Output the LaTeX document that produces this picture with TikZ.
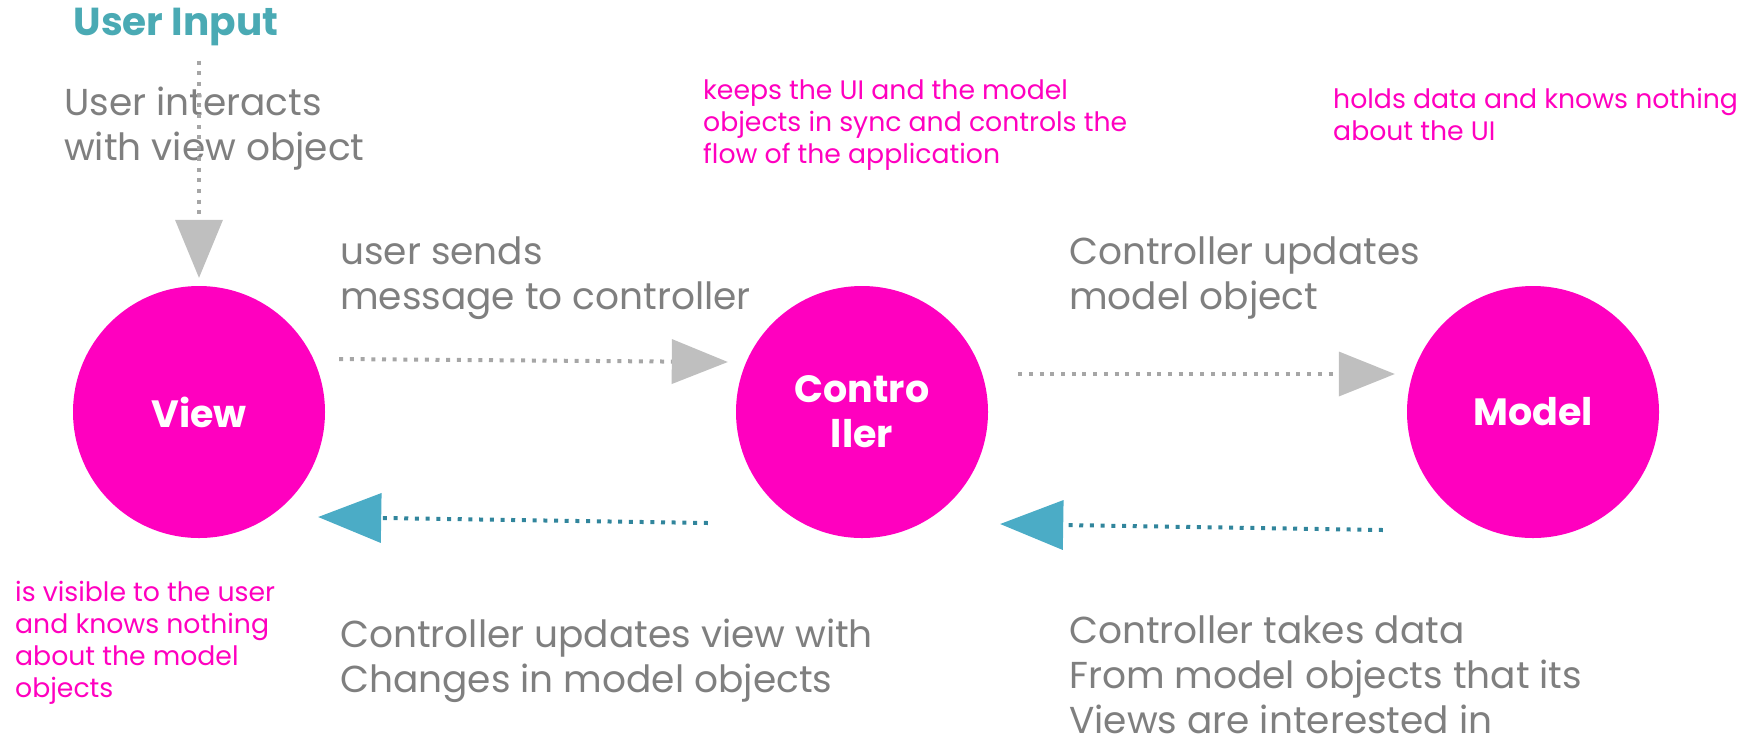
\documentclass[tikz,border=0pt]{standalone}
\usepackage{fontspec}
\setmainfont{Poppins}
\usetikzlibrary{arrows.meta,positioning}

\definecolor{mvcpink}{HTML}{FF00BF}
\definecolor{mvcteal}{HTML}{4BACC6}
\definecolor{mvcdark}{HTML}{31859C}
\definecolor{mvcinput}{HTML}{4AAAB4}
\definecolor{mvcgray}{HTML}{7F7F7F}
\definecolor{headgray}{HTML}{BFBFBF}
\definecolor{dotgray}{HTML}{A6A6A6}

\begin{document}
\begin{tikzpicture}[x=1pt,y=-1pt]

    \tikzstyle{blob}=[circle,fill=mvcpink,minimum size=252pt,inner sep=0pt,text=white,align=center,font=\fontsize{38}{45}\selectfont\bfseries]
    \tikzstyle{note}=[anchor=base west,inner sep=0pt,align=left,text=mvcgray,font=\fontsize{37.5}{45}\selectfont]
    \tikzstyle{remark}=[anchor=base west,inner sep=0pt,align=left,text=mvcpink,font=\fontsize{26.7}{32}\selectfont]
    \tikzstyle{dots}=[line width=4pt,dash pattern=on 4pt off 6.7pt]
    \tikzstyle{ask}=[dots,draw=dotgray,-{Triangle[length=56pt,width=45pt,color=headgray,line width=0pt]}]
    \tikzstyle{reply}=[dots,draw=mvcdark,-{Triangle[length=63pt,width=50pt,color=mvcteal,line width=0pt]}]

    \useasboundingbox (0,0) rectangle (1756,740);

    \node[blob]  (view)                                   at (199,412) {View};
    \node[blob]  (ctrl)  [right of=view,node distance=663pt]           {Contro\\ller};
    \node[blob]  (model) [right of=ctrl,node distance=671pt]           {Model};

    \node[anchor=base,inner sep=0pt,text=mvcinput,font=\fontsize{39}{40}\selectfont\bfseries]
         (input) at (176,35) {User Input};

    % multi-line notes sit on the baseline of their last line
    \node[note] (n_1) at (64,160)   {User interacts\\with view object};
    \node[note] (n_2) at (340,309)  {user sends\\message to controller};
    \node[note] (n_3) at (1069,309) {Controller updates\\model object};
    \node[note] (n_4) at (340,692)  {Controller updates view with\\Changes in model objects};
    \node[note] (n_5) at (1069,733) {Controller takes data\\From model objects that its\\Views are interested in};

    \node[remark] (r_1) at (703,163)  {keeps the UI and the model\\objects in sync and controls the\\flow of the application};
    \node[remark] (r_2) at (1333,140) {holds data and knows nothing\\about the UI};
    \node[remark] (r_3) at (15,697)   {is visible to the user\\and knows nothing\\about the model\\objects};

    \draw[ask,-{Triangle[length=58pt,width=48pt,color=headgray,line width=0pt]},shorten <=15pt,shorten >=8pt]
         (input.south -| view.north) -- (view.north);
    \draw[ask]   ([xshift=14pt,yshift=53pt]view.east)    -- ([xshift=-8pt,yshift=50pt]ctrl.west);
    \draw[ask]   ([xshift=30pt,yshift=38pt]ctrl.east)    -- ([xshift=-12pt,yshift=38pt]model.west);
    \draw[reply] ([xshift=-28pt,yshift=-111pt]ctrl.west) -- ([xshift=-7pt,yshift=-105pt]view.east);
    \draw[reply] ([xshift=-24pt,yshift=-118pt]model.west) -- ([xshift=12pt,yshift=-112pt]ctrl.east);
  \end{tikzpicture}
\end{document}
